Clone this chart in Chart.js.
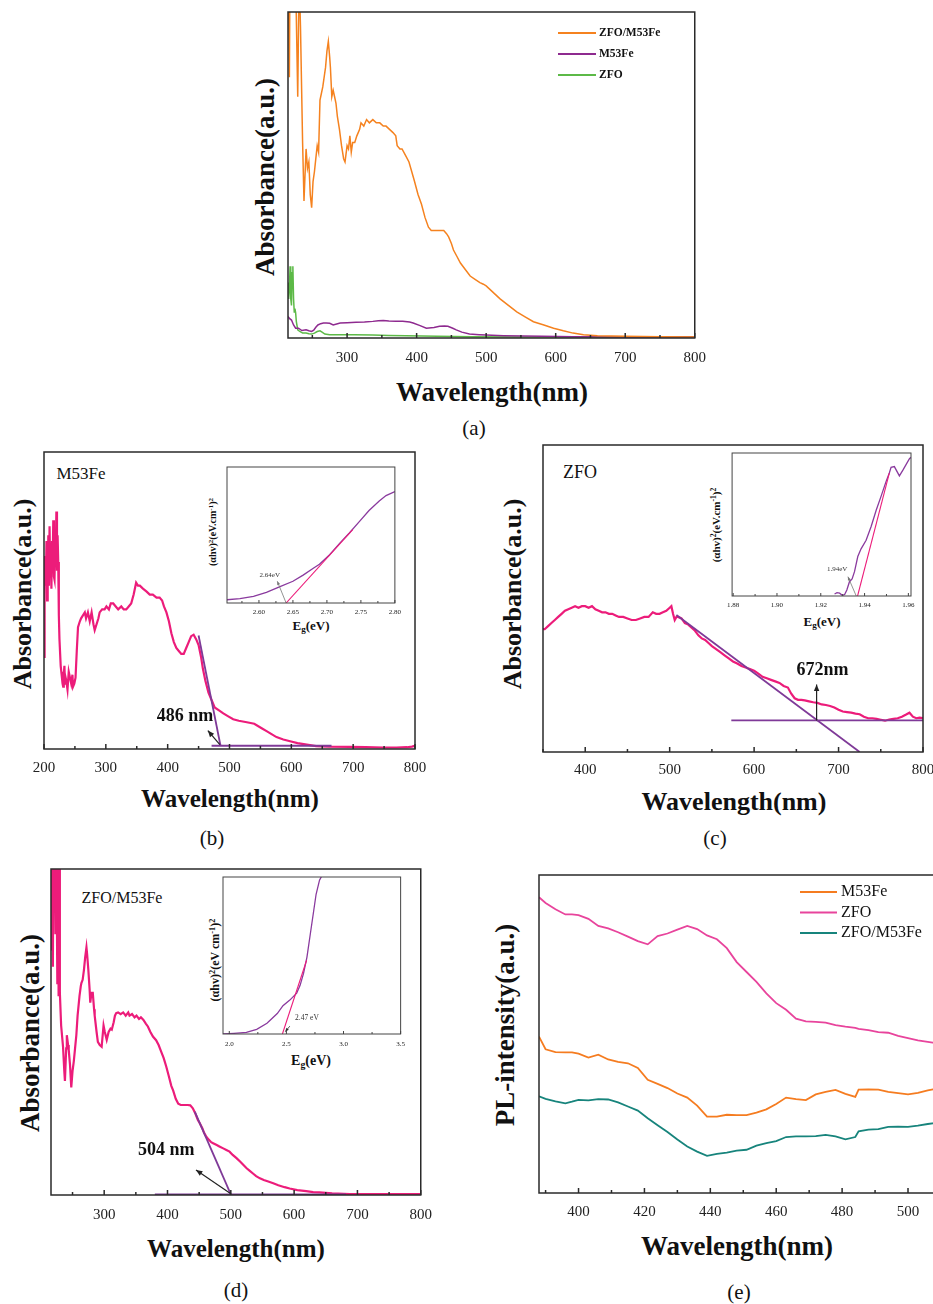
<!DOCTYPE html>
<html>
<head>
<meta charset="utf-8">
<script src="https://cdn.jsdelivr.net/npm/chart.js@4.4.0/dist/chart.umd.min.js"></script>
<style>
  html, body { margin: 0; padding: 0; background: #fff; }
  body { width: 933px; height: 1304px; position: relative; overflow: hidden;
         font-family: "Liberation Serif", "Times New Roman", Times, serif; color: #111; }
  canvas { position: absolute; }
  .t { position: absolute; white-space: nowrap; line-height: 1; transform: translate(-50%, -50%); }
  .r { transform: translate(-50%, -50%) rotate(-90deg); }
  .b { font-weight: bold; }
  sup { font-size: 70%; vertical-align: 0.45em; line-height: 0; }
  sub { font-size: 70%; vertical-align: -0.3em; line-height: 0; }
</style>
</head>
<body>

<!-- (a) -->
<div class="t r b" style="left:265px;top:177px;font-size:27px">Absorbance(a.u.)</div>
<div class="t b" style="left:492px;top:392px;font-size:27px">Wavelength(nm)</div>
<div class="t" style="left:474px;top:428px;font-size:21px">(a)</div>
<!-- (b) -->
<div class="t r b" style="left:23px;top:594px;font-size:26px">Absorbance(a.u.)</div>
<div class="t b" style="left:230px;top:798px;font-size:25px">Wavelength(nm)</div>
<div class="t" style="left:212px;top:838px;font-size:21px">(b)</div>
<div class="t" style="left:81px;top:473px;font-size:17px">M53Fe</div>
<div class="t b" style="left:311px;top:625px;font-size:13px">E<sub>g</sub>(eV)</div>
<div class="t r b" style="left:213px;top:532px;font-size:10px">(αhv)<sup>2</sup>(eV.cm<sup>-1</sup>)<sup>2</sup></div>
<!-- (c) -->
<div class="t r b" style="left:513px;top:594px;font-size:26px">Absorbance(a.u.)</div>
<div class="t b" style="left:734px;top:802px;font-size:26px">Wavelength(nm)</div>
<div class="t" style="left:715px;top:838px;font-size:21px">(c)</div>
<div class="t" style="left:580px;top:472px;font-size:18px">ZFO</div>
<div class="t b" style="left:822px;top:621px;font-size:13px">E<sub>g</sub>(eV)</div>
<div class="t r b" style="left:716px;top:525px;font-size:11px">(αhv)<sup>2</sup>(eV.cm<sup>-1</sup>)<sup>2</sup></div>
<!-- (d) -->
<div class="t r b" style="left:30px;top:1033px;font-size:27px">Absorbance(a.u.)</div>
<div class="t b" style="left:236px;top:1248px;font-size:25px">Wavelength(nm)</div>
<div class="t" style="left:236px;top:1290px;font-size:21px">(d)</div>
<div class="t" style="left:122px;top:898px;font-size:16px">ZFO/M53Fe</div>
<div class="t b" style="left:311px;top:1061px;font-size:14px">E<sub>g</sub>(eV)</div>
<div class="t r b" style="left:215px;top:960px;font-size:12px">(αhv)<sup>2</sup>(eV cm<sup>-1</sup>)<sup>2</sup></div>
<!-- (e) -->
<div class="t r b" style="left:505px;top:1025px;font-size:27px">PL-intensity(a.u.)</div>
<div class="t b" style="left:737px;top:1246px;font-size:27px">Wavelength(nm)</div>
<div class="t" style="left:739px;top:1292px;font-size:21px">(e)</div>

<script>
// ---------- data ----------
// (a) UV-vis, three samples
const aCompWl = [215,217,218,222,226,229,231,233,236,238,241,243,245,247,249,251,253,255,257,259,
  261,263,265,267,269,271,273,275,276,278,280,282,284,286,289,292,295,297,300,302,
  304,306,308,311,314,316,318,320,324,328,332,337,342,347,352,356,361,366,370,372,
  376,379,384,389,393,397,402,407,412,417,421,428,435,439,443,446,450,453,458,463,
  470,477,484,491,496,500,510,520,532,544,556,568,583,597,611,625,640,660,700,750,800];
const aCompAbs = [120,80,120,115,110,74,112,95,60,42,58,52,54,44,40,48,51,55,59,57,
  73,75,77,80,83,88,91,86,83,74,76,74,72,68,64,59,55,54,59,58,
  62,57,60,60,62,63,64,66,65,67,66,67,66,66,65,65,64,63,62,59,
  58,58,56,54,51,48,44,41,37,34,33,33,33,33,32,31,29,27,25,23,
  21,19,18,17,16.5,16,14,12,10,8,6.5,5,4,3,2.2,1.5,1,0.7,0.5,0.4,0.3];
const aM53Wl = [215,217,220,223,226,230,235,241,245,249,252,255,258,262,266,270,275,280,285,290,
  300,313,325,337,345,352,360,370,380,390,395,405,414,425,433,440,445,452,457,465,
  476,490,500,525,553,580,625,700,800];
const aM53Abs = [6.6,6,5.5,4,3,3,2.3,2.5,2.2,2,2.4,3.3,4,4.4,4.6,4.6,4.5,4,4.3,4.6,
  4.7,4.8,4.9,5.1,5.3,5.4,5.2,5.1,5.1,4.9,4.6,3.8,3.0,3.2,3.6,3.7,3.6,3.0,2.5,1.8,
  1.2,1.0,0.9,0.7,0.6,0.5,0.4,0.3,0.3];
const aZfoWl = [215,216,217,218,219,220,221,222,223,224,225,226,227,229,232,236,241,245,249,253,
  257,261,264,268,275,289,310,337,360,385,430,480,550,650,800];
const aZfoAbs = [17,12,15,22,12,10,20,22,12,8,9,7.7,5,2.5,2,1.5,1.5,1.3,1.2,1.5,
  2,2.2,1.8,1.2,1,1,1,0.9,0.8,0.7,0.5,0.4,0.3,0.3,0.3];
const aTicks = [300,400,500,600,700,800];

// (b) M53Fe
const bWl = [200,201,203,204,205,206,207,208,209,210,
  211,212,213,214,215,216,217,218,219,220,
  221,222,223,224,225,227,228,229,230,231,
  232,233,234,235,236,238,240,242,244,246,
  247,249,251,253,255,258,260,263,266,268,
  271,274,277,280,282,285,288,290,294,298,
  301,305,308,312,316,320,325,329,333,337,
  341,345,349,352,355,360,366,371,376,382,
  387,391,394,398,402,406,410,414,418,422,
  426,430,434,438,442,446,450,454,457,461,
  466,470,476,483,490,498,506,515,528,540,
  552,560,568,576,587,598,610,625,640,660,
  695,720,749,770,787,795,800];
const bAbs = [31,65,55,70,50,59,72,55,75,60,
  68,54,70,62,77,58,57,70,65,80,
  60,72,63,45,37,28,26,24,22,21,
  25,28,22,24,23,20,26,24,22,25,
  21,22,24,33,41,43,44,45,46,44,
  46,43,46,42,40,42,44,46,47,47,
  48,47,49,49,48,47,48,47,47,48,
  49,52,56,55,55,54,53,52,52,51,
  51,50,48,46,43,39,36,34,33,32,
  32,34,36,38,38.5,37,35,31,27,23,
  19,17,14,13,12,11,10,9.5,9,8.5,
  7,6,5,4,3.2,2.6,2,1.5,1,0.8,
  0.7,0.6,0.5,0.5,0.6,0.8,1.1];
const bTanWl = [450, 485.5], bTanAbs = [38.2, 1.1];
const bBaseWl = [471, 665], bBaseAbs = [1.1, 1.1];
const bTicks = [200,300,400,500,600,700,800];
const biEv = [2.553,2.572,2.592,2.611,2.631,2.650,2.665,2.680,2.689,2.704,2.719,2.733,2.748,2.762,2.777,2.787,2.800];
const biVal = [2.4,3.2,4.9,7.8,12,16,20.5,25.5,28.5,35.5,44,51.5,60,68,75,79,82];
const biTanEv = [2.64, 2.738], biTanVal = [0, 54];
const biTicks = [2.60,2.65,2.70,2.75,2.80];

// (c) ZFO
const cWl = [350,352,356,360,364,368,372,376,380,384,
  388,392,396,400,404,408,412,416,420,424,
  428,432,436,440,445,450,455,460,465,470,
  475,480,484,488,492,496,500,502,504,506,
  508,510,514,518,522,526,530,534,538,542,
  546,550,555,560,565,570,575,580,585,590,
  595,600,605,610,615,620,625,630,635,640,
  644,648,652,656,660,665,670,675,680,685,
  690,695,700,705,710,715,720,725,730,735,
  740,745,750,755,760,765,770,775,780,784,
  788,792,796,800];
const cAbs = [40,40,41,42,43,44,45,46,46.5,47,
  47.5,47,47.5,47.5,47,47.5,46.5,46,45.5,45.5,
  45,45,44.5,44,44,43.5,43,43,43.5,44,
  44,45.5,45,45,45.5,46,47,47.5,45,43,
  44,44,43.5,42,41.5,40.5,39.5,38,37,36.5,
  35.5,34.5,33.5,32.5,31.5,30.5,29.5,28.8,28,27.5,
  27,26.5,25.5,24.5,24,23.5,23,22.5,21.5,21,
  19,17.5,17,17,16.8,16.5,16.2,16,15.5,15.3,
  15,14.5,13.8,13.2,13,12.8,12.5,12.3,11.5,11,
  11,10.8,10.5,10.2,10.6,10.8,11,11.5,12.2,12.8,
  11.5,11,11.2,11];
const cTanWl = [508, 725], cTanAbs = [44.6, 0];
const cBaseWl = [573, 800], cBaseAbs = [10.3, 10.3];
const cTicks = [400,500,600,700,800];
const ciEv = [1.9263,1.9274,1.9286,1.9298,1.9309,1.9319,1.9331,1.9343,1.9354,1.9369,1.9384,1.9407,
  1.9430,1.9453,1.9476,1.9498,1.9513,1.9521,1.9536,1.9559,1.9575,1.9590,1.9605,1.9612];
const ciVal = [1.4,2.3,2,0.5,1,4.2,10,12,17,27.6,33,39,48.6,60,70,80,86,90,90.5,84,88,92,96,97];
const ciTanEv = [1.9368, 1.9513], ciTanVal = [0, 86];
const ciTicks = [1.88,1.90,1.92,1.94,1.96];

// (d) ZFO/M53Fe
const dWl = [216,217,218,219,220,222,223,224,225,226,
  227,228,229,230,232,235,237,238,240,241,
  243,244,246,248,250,252,254,256,258,261,
  263,264,266,268,270,272,273,275,277,278,
  280,282,284,285,288,290,293,296,299,301,
  304,307,310,312,315,317,319,322,326,330,
  334,338,340,344,348,351,355,358,362,366,
  369,373,377,382,386,390,394,398,402,406,
  409,413,417,421,426,432,436,440,444,448,
  451,455,458,461,465,469,472,477,482,488,
  493,498,503,509,515,520,525,530,535,540,
  546,552,558,567,575,585,593,605,619,630,
  640,660,688,720,760,800];
const dAbs = [120,75,120,70,120,120,80,120,120,65,
  120,61,110,62,52,45.5,38,35,45,49,
  46,44.5,40,33,38,41,45,49,55,61,
  64,65,66,69,73,76,74,69,63,59,
  62,62,57,55,50,47,46,45.5,52,50,
  47.6,50,51,50.7,53,55,55.8,56,55.5,56,
  55,56,55,55.5,54.5,55,54,54.5,53.7,52.5,
  51.7,50,48.6,47.5,46,44,42,39.4,36.5,33.5,
  32,29.5,28,27.6,27.6,27.6,27.5,26.6,25,23,
  22,20.5,19,18,17,16.2,15.9,15.4,14.9,14.3,
  13.8,13.3,12.3,11.3,10.2,9.2,8.2,7.4,6.6,5.8,
  5.1,4.6,4.2,3.6,3,2.4,2,1.5,1.2,0.9,
  0.8,0.5,0.3,0.3,0.3,0.3];
const dTanWl = [443, 500], dTanAbs = [25.6, 0.2];
const dBaseWl = [380, 682], dBaseAbs = [0.2, 0.2];
const dTicks = [300,400,500,600,700,800];
const diEv = [1.945,2.04,2.15,2.24,2.33,2.42,2.47,2.53,2.59,2.62,2.65,2.68,2.71,2.74,2.76,2.79,2.82];
const diVal = [0,0.4,1,3,6.8,13,18,21.6,26,31,38.6,49,64,79,89,98,102];
const diTanEv = [2.465, 2.677], diTanVal = [0, 47];
const diTicks = [2.0,2.5,3.0,3.5];

// (e) PL
const eWl = [388,390,393,396,398,400,403,406,409,412,415,418,421,424,427,430,433,436,439,442,
  445,448,451,454,457,460,463,466,469,472,475,478,481,484,485,488,491,494,497,500,503,506,508];
const eM53 = [49.2,45.2,44.3,44.2,44.2,43.8,42.6,43.5,42,41.2,40.8,39.3,35.6,34.3,33,31.3,30,27.5,24,24,
  24.6,24.5,24.5,25.3,26.3,28,30,29.5,29.2,31,31.8,32.4,31.2,30.2,32.5,32.6,32.5,31.8,31.4,31,31.5,32.3,32.7];
const eZfo = [93,91.2,89.2,87.6,87.6,87.4,86.2,84,83.2,82,80.6,79.2,78.2,80.8,81.6,82.8,84,83,81,79.8,
  77,72.6,69.5,66.4,62.8,59.7,57.6,54.8,54,53.8,53.6,52.8,52.3,51.9,51.6,51.2,50.6,50.4,49.4,48.7,48,47.5,47.2];
const eComp = [30.4,29.6,28.8,28.2,28.7,29.3,29.1,29.5,29.4,28.5,27.2,25.9,23.5,21.3,19.2,16.8,14.6,13,11.7,12.3,
  12.7,13.3,13.6,14.9,15.7,16.3,17.6,17.8,17.8,17.9,18.3,17.8,16.9,17.6,19.4,19.9,20.1,20.8,20.9,20.8,21.2,21.7,22];
const eTicks = [400,420,440,460,480,500];

// ---------- drawing ----------
const SERIF = '"Liberation Serif", "Times New Roman", Times, serif';
const PINK = '#ec1c7a', PURPLE = '#7f3a98';
const pts = (xs, ys) => xs.map((x, i) => ({ x, y: ys[i] }));
const line = (xs, ys, color, w, label) => ({
  label, data: pts(xs, ys), borderColor: color, borderWidth: w,
  pointRadius: 0, fill: false, tension: 0
});

// plot frame + inward x ticks (major and half-step minor)
const framePlugin = {
  id: 'frame',
  afterDraw(chart, args, o) {
    const { ctx, chartArea: a, scales: { x } } = chart;
    ctx.save();
    ctx.strokeStyle = o.color; ctx.lineWidth = o.width;
    const first = o.ticks[0], half = (o.ticks[1] - o.ticks[0]) / 2;
    for (let k = Math.ceil((x.min - first) / half - 1e-9); first + k * half <= x.max + 1e-9; k++) {
      const px = x.getPixelForValue(first + k * half);
      ctx.beginPath();
      ctx.moveTo(px, a.bottom);
      ctx.lineTo(px, a.bottom - (k % 2 === 0 ? o.major : o.minor));
      ctx.stroke();
    }
    ctx.strokeRect(a.left, a.top, a.right - a.left, a.bottom - a.top);
    ctx.restore();
  }
};

// arrows and labels placed in data coordinates
const notesPlugin = {
  id: 'notes',
  afterDatasetsDraw(chart, args, o) {
    const { ctx, scales: { x, y } } = chart;
    ctx.save();
    (o.arrows || []).forEach(ar => {
      const x1 = x.getPixelForValue(ar.from[0]), y1 = y.getPixelForValue(ar.from[1]);
      const x2 = x.getPixelForValue(ar.to[0]), y2 = y.getPixelForValue(ar.to[1]);
      ctx.strokeStyle = ar.color; ctx.fillStyle = ar.color; ctx.lineWidth = ar.width;
      ctx.beginPath(); ctx.moveTo(x1, y1); ctx.lineTo(x2, y2); ctx.stroke();
      const ang = Math.atan2(y2 - y1, x2 - x1), h = ar.head;
      ctx.beginPath();
      ctx.moveTo(x2, y2);
      ctx.lineTo(x2 - h * Math.cos(ang - 0.4), y2 - h * Math.sin(ang - 0.4));
      ctx.lineTo(x2 - h * Math.cos(ang + 0.4), y2 - h * Math.sin(ang + 0.4));
      ctx.closePath(); ctx.fill();
    });
    (o.texts || []).forEach(t => {
      ctx.font = t.font; ctx.fillStyle = t.color || '#111';
      ctx.textAlign = 'center'; ctx.textBaseline = 'middle';
      ctx.fillText(t.text, x.getPixelForValue(t.at[0]), y.getPixelForValue(t.at[1]));
    });
    ctx.restore();
  }
};

// legend drawn inside the plot area
const legendPlugin = {
  id: 'inLegend',
  afterDatasetsDraw(chart, args, o) {
    if (!o.display) return;
    const { ctx, chartArea: a } = chart;
    ctx.save();
    ctx.font = o.font; ctx.textBaseline = 'middle'; ctx.textAlign = 'left'; ctx.fillStyle = '#111';
    let row = 0;
    chart.data.datasets.forEach(ds => {
      if (!ds.label) return;
      const x = a.left + o.left, y = a.top + o.top + row * o.gap;
      ctx.strokeStyle = ds.borderColor; ctx.lineWidth = 2;
      ctx.beginPath(); ctx.moveTo(x, y); ctx.lineTo(x + o.len, y); ctx.stroke();
      ctx.fillText(ds.label, x + o.len + o.space, y);
      row++;
    });
    ctx.restore();
  }
};

function makeChart(box, c) {
  const P = c.pad, W = box.R - box.L + 2 * P, H = box.B - box.T + P + c.padB;
  const cv = document.createElement('canvas');
  cv.width = W; cv.height = H;
  cv.style.left = (box.L - P) + 'px'; cv.style.top = (box.T - P) + 'px';
  cv.style.width = W + 'px'; cv.style.height = H + 'px';
  document.body.appendChild(cv);
  return new Chart(cv, {
    type: 'line',
    data: { datasets: c.datasets },
    plugins: [framePlugin, notesPlugin, legendPlugin],
    options: {
      responsive: false, animation: false, events: [],
      layout: { padding: { left: P, right: P, top: P, bottom: 0 } },
      plugins: {
        legend: { display: false }, tooltip: { enabled: false },
        frame: { ticks: c.ticks, color: c.frameColor || '#2a2a2a', width: c.frameWidth || 1.5,
                 major: c.major || 5, minor: c.minor || 3 },
        notes: { arrows: c.arrows || [], texts: c.texts || [] },
        inLegend: c.legend || { display: false }
      },
      scales: {
        x: {
          type: 'linear', min: c.xMin, max: c.xMax,
          grid: { display: false, drawTicks: false }, border: { display: false },
          ticks: { font: { family: SERIF, size: c.tickSize }, color: '#222', padding: c.tickPad,
                   maxRotation: 0, autoSkip: false,
                   callback: v => c.digits ? v.toFixed(c.digits) : String(v) },
          afterBuildTicks: s => { s.ticks = c.ticks.map(v => ({ value: v })); },
          afterFit: s => { s.height = c.padB; }
        },
        y: { display: false, min: 0, max: 100 }
      }
    }
  });
}

const MAIN = { pad: 22, padB: 40, tickSize: 15 };
const INSET = { pad: 10, padB: 16, tickSize: 7, frameColor: '#444', frameWidth: 1, major: 3, minor: 2 };

// (a)
makeChart({ L: 288, T: 12, R: 695, B: 338 }, Object.assign({}, MAIN, {
  xMin: 215, xMax: 800, ticks: aTicks, tickPad: 11,
  datasets: [
    line(aCompWl, aCompAbs, '#f5821f', 1.5, 'ZFO/M53Fe'),
    line(aM53Wl, aM53Abs, '#8e2a8f', 1.5, 'M53Fe'),
    line(aZfoWl, aZfoAbs, '#5cb947', 1.5, 'ZFO')
  ],
  legend: { display: true, left: 270, top: 21, gap: 21, len: 38, space: 3, font: 'bold 11.5px ' + SERIF }
}));

// (b)
makeChart({ L: 44, T: 452, R: 415, B: 749 }, Object.assign({}, MAIN, {
  xMin: 200, xMax: 800, ticks: bTicks, tickPad: 10,
  datasets: [
    line(bTanWl, bTanAbs, PURPLE, 1.8),
    line(bBaseWl, bBaseAbs, PURPLE, 1.8),
    line(bWl, bAbs, PINK, 2.2)
  ],
  arrows: [{ from: [484.4, 1.5], to: [465, 6.2], color: '#222', width: 1.2, head: 7 }],
  texts: [{ text: '486 nm', at: [428, 11], font: 'bold 18px ' + SERIF }]
}));
makeChart({ L: 227, T: 467, R: 396, B: 603 }, Object.assign({}, INSET, {
  xMin: 2.553, xMax: 2.80, ticks: biTicks, tickPad: 5, digits: 2,
  datasets: [
    line(biTanEv, biTanVal, PINK, 1.1),
    line(biEv, biVal, '#8a3a9e', 1.3)
  ],
  arrows: [{ from: [2.640, 0], to: [2.627, 16], color: '#777', width: 0.8, head: 4 }],
  texts: [{ text: '2.64eV', at: [2.616, 20.5], font: '7px ' + SERIF, color: '#333' }]
}));

// (c)
makeChart({ L: 543, T: 445, R: 923, B: 752 }, Object.assign({}, MAIN, {
  xMin: 350, xMax: 800, ticks: cTicks, tickPad: 9,
  datasets: [
    line(cTanWl, cTanAbs, PURPLE, 1.8),
    line(cBaseWl, cBaseAbs, PURPLE, 1.8),
    line(cWl, cAbs, PINK, 2.2)
  ],
  arrows: [{ from: [674, 10.3], to: [674, 22], color: '#222', width: 1.2, head: 7 }],
  texts: [{ text: '672nm', at: [681, 26.7], font: 'bold 18px ' + SERIF }]
}));
makeChart({ L: 732, T: 453, R: 911, B: 596 }, Object.assign({}, INSET, {
  xMin: 1.8795, xMax: 1.9612, ticks: ciTicks, tickPad: 5, digits: 2,
  datasets: [
    line(ciTanEv, ciTanVal, PINK, 1.1),
    line(ciEv, ciVal, '#8a3a9e', 1.3)
  ],
  arrows: [{ from: [1.9362, 0], to: [1.9324, 13.5], color: '#777', width: 0.8, head: 4 }],
  texts: [{ text: '1.94eV', at: [1.9275, 18.5], font: '7px ' + SERIF, color: '#333' }]
}));

// (d)
makeChart({ L: 51, T: 869, R: 421, B: 1195 }, Object.assign({}, MAIN, {
  xMin: 216, xMax: 800, ticks: dTicks, tickPad: 11,
  datasets: [
    line(dTanWl, dTanAbs, PURPLE, 1.8),
    line(dBaseWl, dBaseAbs, PURPLE, 1.8),
    line(dWl, dAbs, PINK, 2.2)
  ],
  arrows: [{ from: [500, 0.4], to: [445, 7.7], color: '#222', width: 1.2, head: 7 }],
  texts: [{ text: '504 nm', at: [398, 13.6], font: 'bold 18px ' + SERIF }]
}));
makeChart({ L: 223, T: 877, R: 401, B: 1034 }, Object.assign({}, INSET, {
  xMin: 1.945, xMax: 3.5, ticks: diTicks, tickPad: 6, digits: 1,
  datasets: [
    line(diTanEv, diTanVal, PINK, 1.1),
    line(diEv, diVal, '#8a3a9e', 1.3)
  ],
  arrows: [{ from: [2.53, 5], to: [2.49, 1.5], color: '#333', width: 0.8, head: 4 }],
  texts: [{ text: '2.47 eV', at: [2.68, 10], font: '7.5px ' + SERIF, color: '#333' }]
}));

// (e)
makeChart({ L: 539, T: 875, R: 937, B: 1193 }, Object.assign({}, MAIN, {
  xMin: 388, xMax: 508.8, ticks: eTicks, tickPad: 10,
  datasets: [
    line(eWl, eM53, '#f57c20', 1.8, 'M53Fe'),
    line(eWl, eZfo, '#e8449c', 1.8, 'ZFO'),
    line(eWl, eComp, '#17847c', 1.8, 'ZFO/M53Fe')
  ],
  legend: { display: true, left: 261, top: 17, gap: 20.5, len: 37, space: 4, font: '16px ' + SERIF }
}));
</script>
</body>
</html>
